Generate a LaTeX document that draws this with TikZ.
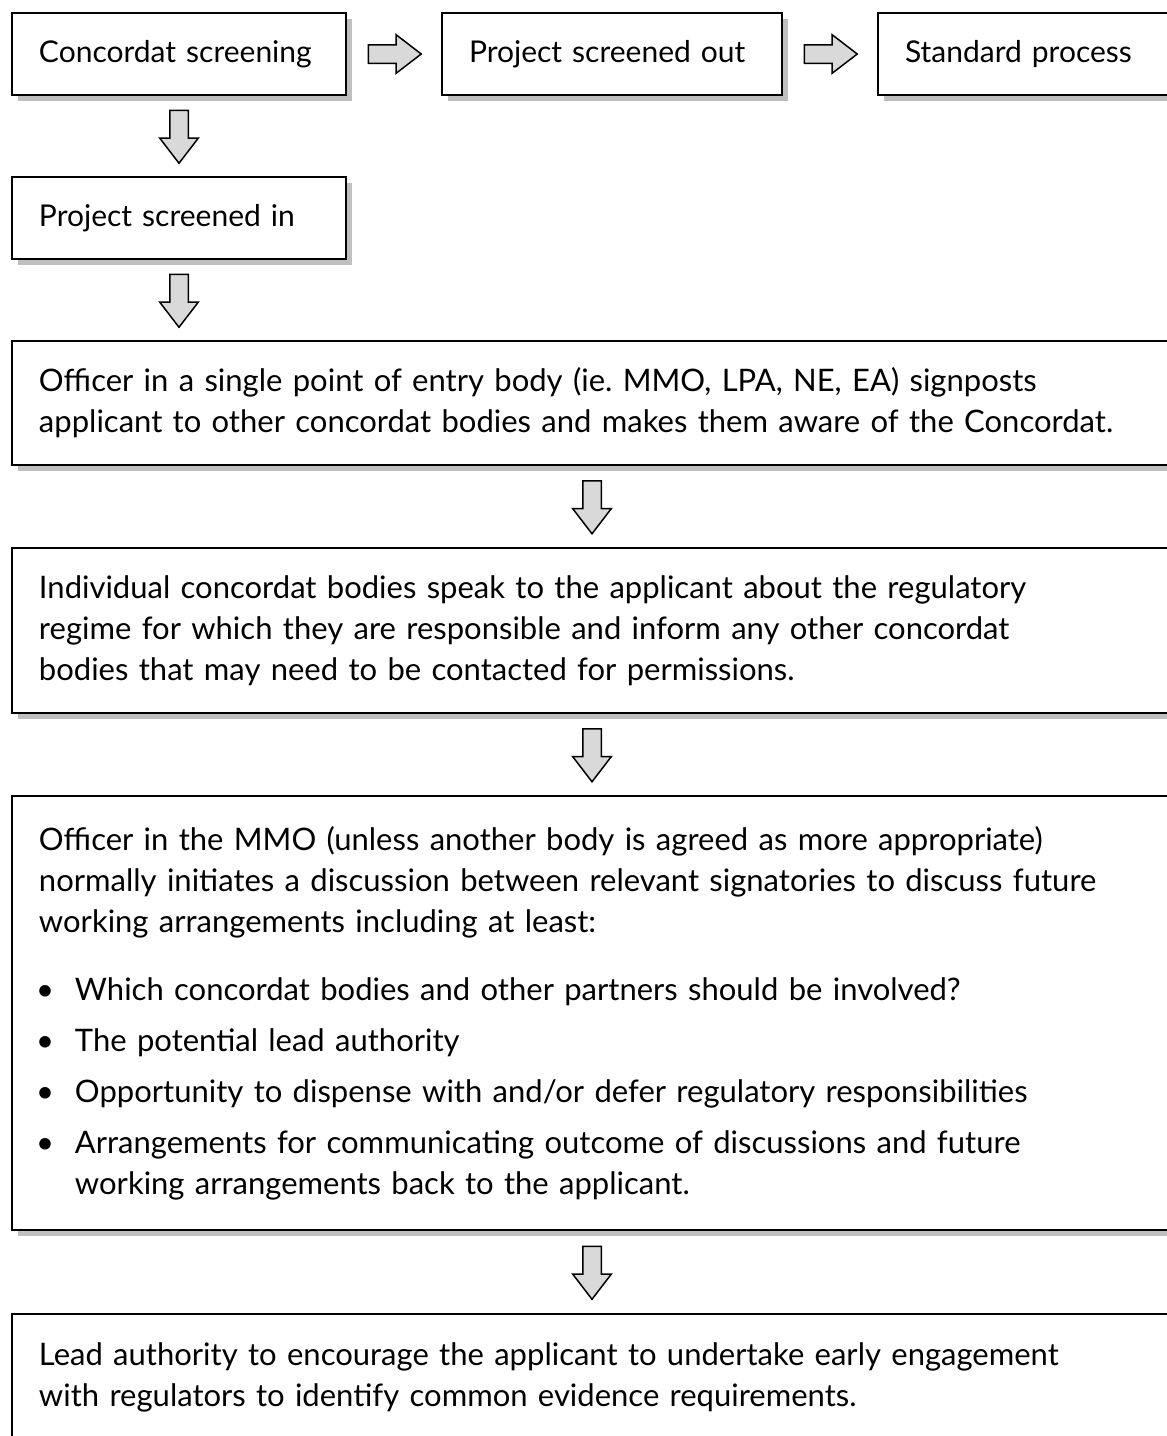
\documentclass[tikz,border=0pt]{standalone}
\usepackage{fontspec}
\setmainfont{Lato}[WordSpace=1.8]
\usepackage{enumitem}
\usetikzlibrary{shapes, positioning, arrows, shadows, calc}

\begin{document}
\frenchspacing
\begin{tikzpicture}[
      box/.style={draw, line width=1pt, fill=white, align=left, anchor=north west,
        inner xsep=13.5pt, inner ysep=0pt, font=\fontsize{15.5}{20.5}\selectfont,
        drop shadow={shadow xshift=3pt, shadow yshift=-3pt, fill=black!25, opacity=1}},
      smallbox/.style={box, text width=140pt, minimum height=41pt,
        font=\fontsize{15}{20.5}\selectfont},
      widebox/.style={box, text width=553pt},
      harrow/.style={single arrow, draw, line width=0.75pt, fill=black!15, anchor=tail,
        inner sep=4.25pt, minimum height=26.5pt, minimum width=18.5pt,
        single arrow head extend=5pt, single arrow tip angle=75},
      varrow/.style={harrow, shape border rotate=270}
    ]
    \clip (0,0) rectangle (583.5pt,-718pt);

    % top row
    \node[smallbox] (screen) at (5.5pt,-6pt) {Concordat screening};
    \node[smallbox, text width=143pt, right=47pt of screen] (out) {Project screened out};
    \node[smallbox, right=47pt of out] (std) {Standard process};
    \node[smallbox, below=40pt of screen] (in) {Project screened in};

    % the long steps
    \node[widebox, minimum height=62pt, below right=40pt and 0pt of in.south west] (entry)
      {Officer in a single point of entry body (ie. MMO, LPA, NE, EA) signposts\\
       applicant to other concordat bodies and makes them aware of the Concordat.};
    \node[widebox, minimum height=82.5pt, below=40.5pt of entry] (bodies)
      {Individual concordat bodies speak to the applicant about the regulatory\\
       regime for which they are responsible and inform any other concordat\\
       bodies that may need to be contacted for permissions.};
    \node[widebox, minimum height=217pt, below=40.5pt of bodies] (mmo)
      {Officer in the MMO (unless another body is agreed as more appropriate)\\
       normally initiates a discussion between relevant signatories to discuss future\\
       working arrangements including at least:\par\vspace{13.5pt}
       \begin{itemize}[leftmargin=18pt, labelsep=10.5pt, topsep=0pt, partopsep=0pt,
         itemsep=5pt, parsep=0pt]
         \item Which concordat bodies and other partners should be involved?
         \item The potential lead authority
         \item Opportunity to dispense with and/or defer regulatory responsibilities
         \item Arrangements for communicating outcome of discussions and future\\
               working arrangements back to the applicant.
       \end{itemize}};
    \node[widebox, minimum height=63pt, below=41pt of mmo] (lead)
      {Lead authority to encourage the applicant to undertake early engagement\\
       with regulators to identify common evidence requirements.};

    % block arrows
    \node[harrow] (a1) at ($(screen.east)!0.5!(out.west)+(-13.25pt,0)$) {};
    \node[harrow] (a2) at ($(out.east)!0.5!(std.west)+(-13.25pt,0)$) {};
    \node[varrow] (a3) at ($(screen.south)!0.5!(in.north)+(0,13.25pt)$) {};
    \node[varrow] (a4) at ($(in.south)!0.5!(in.south|-entry.north)+(0,13.25pt)$) {};
    \node[varrow] (a5) at ($(entry.south)!0.5!(bodies.north)+(0,13.25pt)$) {};
    \node[varrow] (a6) at ($(bodies.south)!0.5!(mmo.north)+(0,13.25pt)$) {};
    \node[varrow] (a7) at ($(mmo.south)!0.5!(lead.north)+(0,13.25pt)$) {};
\end{tikzpicture}
\end{document}
